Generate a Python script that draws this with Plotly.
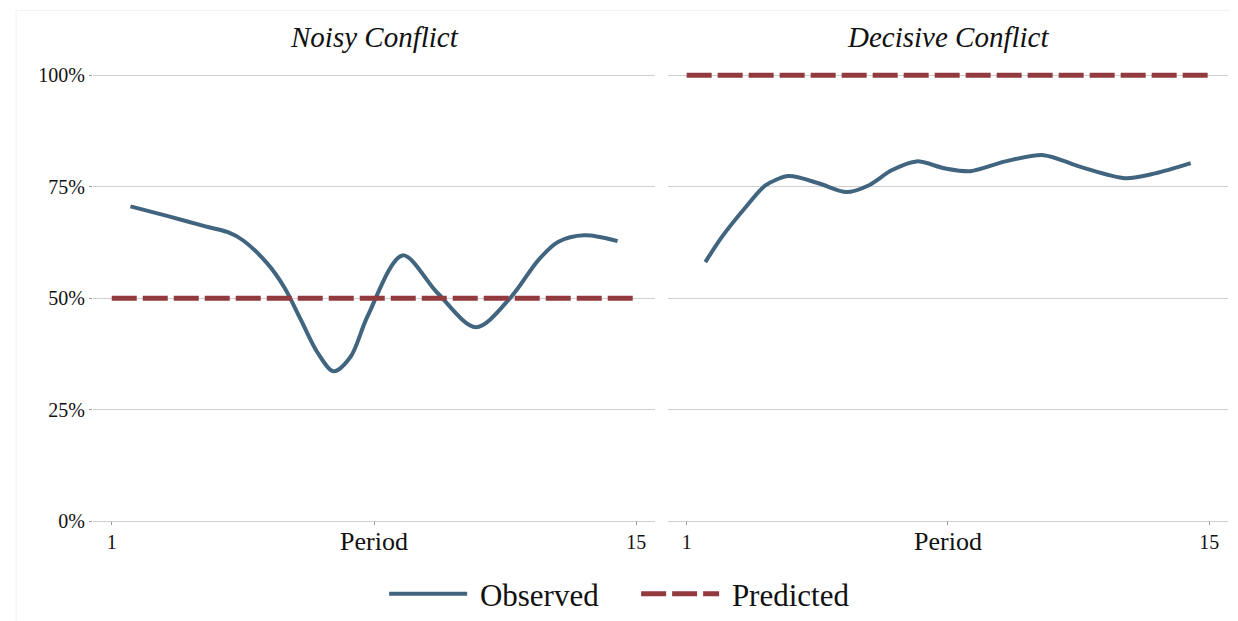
import plotly.graph_objects as go

# ---- data ----
periods = list(range(1, 16))
pred_noisy = [50] * 15
pred_decisive = [100] * 15

obs_noisy_x = [1.5, 2.5, 3.5, 4.1, 4.5, 5.15, 5.6, 6.05, 6.5, 6.92, 7.37, 7.83,
               8.76, 9.7, 10.72, 11.65, 12.38, 12.91, 13.61, 14.5]
obs_noisy_y = [70.6, 68.4, 66.1, 64.8, 63.0, 57.8, 52.5, 45.1, 37.7, 33.6, 36.8, 46.0,
               59.6, 51.1, 43.5, 50.2, 58.5, 62.6, 64.1, 62.8]

obs_dec_x = [1.5, 1.94, 2.58, 3.11, 3.73, 4.53, 5.28, 5.87, 6.49, 7.16, 7.93, 8.6,
             9.54, 10.56, 11.57, 12.75, 13.55, 14.5]
obs_dec_y = [58.1, 63.7, 70.4, 75.3, 77.4, 75.8, 73.8, 75.3, 78.7, 80.7, 79.1, 78.5,
             80.7, 82.1, 79.4, 76.9, 78.0, 80.3]

panel_titles = ["Noisy Conflict", "Decisive Conflict"]
x_tickvals = [1, 8, 15]
x_ticktext = ["1", "", "15"]
y_tickvals = [0, 25, 50, 75, 100]
y_ticktext = ["0%", "25%", "50%", "75%", "100%"]

OBS_COLOR = "#41647f"
PRED_COLOR = "#933a3f"
GRID = "#cfcfcf"
FONT = "Liberation Serif"
NB = "\u00a0"

fig = go.Figure()

fig.add_trace(go.Scatter(x=obs_noisy_x, y=obs_noisy_y, mode="lines", name=NB + "Observed",
                         line=dict(color=OBS_COLOR, width=4, shape="spline", smoothing=0.9),
                         xaxis="x", yaxis="y", legendrank=1))
fig.add_trace(go.Scatter(x=periods, y=pred_noisy, mode="lines", name=NB + "Predicted",
                         line=dict(color=PRED_COLOR, width=5, dash="25px,6px"),
                         xaxis="x", yaxis="y", legendrank=2))
fig.add_trace(go.Scatter(x=obs_dec_x, y=obs_dec_y, mode="lines", name="Observed",
                         line=dict(color=OBS_COLOR, width=4, shape="spline", smoothing=0.8),
                         xaxis="x2", yaxis="y2", showlegend=False))
fig.add_trace(go.Scatter(x=periods, y=pred_decisive, mode="lines", name="Predicted",
                         line=dict(color=PRED_COLOR, width=5, dash="25px,6px"),
                         xaxis="x2", yaxis="y2", showlegend=False))

xaxis_common = dict(range=[0.5, 15.5], tickvals=x_tickvals, ticktext=x_ticktext,
                    ticks="outside", ticklen=3, tickcolor="#999999", showgrid=False,
                    zeroline=False, showline=True, linecolor=GRID, linewidth=1,
                    tickfont=dict(family=FONT, size=20, color="#111111"), fixedrange=True)
yaxis_common = dict(range=[0, 103], tickvals=y_tickvals, ticktext=y_ticktext,
                    showgrid=True, gridcolor=GRID,
                    gridwidth=1, zeroline=False, showline=False, fixedrange=True)

fig.update_layout(
    width=1230, height=625,
    margin=dict(l=85, r=10, t=54, b=112),
    paper_bgcolor="white", plot_bgcolor="white",
    font=dict(family=FONT, color="#111111"),
    xaxis=dict(domain=[0, 0.4952], anchor="y", **xaxis_common),
    xaxis2=dict(domain=[0.5066, 1], anchor="y2", **xaxis_common),
    yaxis=dict(anchor="x", ticks="outside", ticklen=3, tickcolor="#999999",
               tickfont=dict(family=FONT, size=20, color="#111111"), **yaxis_common),
    yaxis2=dict(anchor="x2", showticklabels=False, ticks="", **yaxis_common),
    legend=dict(orientation="h", x=0.2565, xanchor="left", y=-0.159, yanchor="middle",
                font=dict(family=FONT, size=31, color="#111111"), itemwidth=78,
                entrywidth=159, entrywidthmode="pixels",
                tracegroupgap=0, bgcolor="rgba(0,0,0,0)"),
    showlegend=True,
)

annotations = []
for i, t in enumerate(panel_titles):
    xref = "x domain" if i == 0 else "x2 domain"
    annotations.append(dict(text="<i>" + t + "</i>", xref=xref, yref="paper", x=0.5, y=1.0,
                            yshift=25, showarrow=False, xanchor="center", yanchor="middle",
                            font=dict(family=FONT, size=29, color="#111111")))
    annotations.append(dict(text="Period", xref=("x" if i == 0 else "x2"), yref="paper",
                            x=8, y=0, yshift=-20, showarrow=False, xanchor="center",
                            yanchor="middle", font=dict(family=FONT, size=26, color="#111111")))
fig.update_layout(annotations=annotations)

fig.add_shape(type="rect", xref="paper", yref="paper", x0=-0.0678, x1=1.2, y0=-0.5, y1=1.112,
              line=dict(color="#f2f2f2", width=1), fillcolor="rgba(0,0,0,0)", layer="below")

fig.write_html("out.html")
